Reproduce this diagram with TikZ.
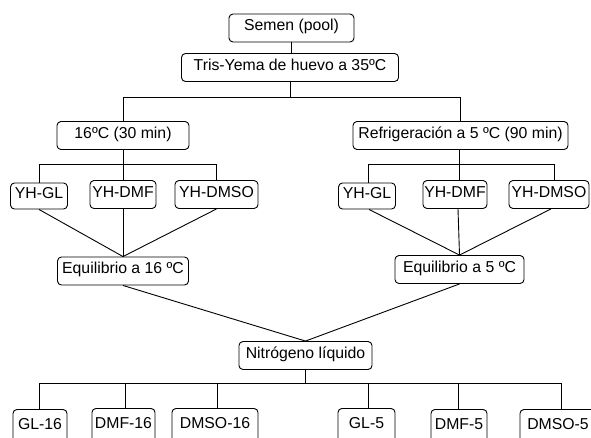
\documentclass[tikz,border=0pt]{standalone}
\usepackage{fontspec}
\setmainfont{Liberation Sans}
\begin{document}
\begin{tikzpicture}[x=1pt,y=-1pt,
  box/.style={draw, rounded corners=4pt, line width=0.9pt, inner sep=0pt,
    minimum height=28pt, text height=0.72em, text depth=0.2em,
    font=\fontsize{15.8}{18}\selectfont},
  bottombox/.style={box, minimum height=40pt, anchor=north, text depth=20pt, text height=20pt},
  conn/.style={line width=0.9pt}]
\useasboundingbox (0,0) rectangle (591,437);
% level nodes
\node[box, minimum width=125pt] (semen) at (291.5,28) {Semen (pool)};
\node[box, minimum width=217pt] (tris) at (290,67.5) {Tris-Yema de huevo a 35ºC};
\node[box, minimum width=132pt] (c16) at (123,135.5) {16ºC (30 min)};
\node[box, minimum width=215pt] (c5) at (460.5,135.5) {Refrigeración a 5 ºC (90 min)};
% left children
\node[box, minimum width=57pt, minimum height=26pt] (lgl) at (39,196) {YH-GL};
\node[box, minimum width=66pt] (ldmf) at (123,194.5) {YH-DMF};
\node[box, minimum width=83pt] (ldmso) at (216.5,194.5) {YH-DMSO};
% right children
\node[box, minimum width=57pt, minimum height=26pt] (rgl) at (367,196) {YH-GL};
\node[box, minimum width=64pt] (rdmf) at (455,194.5) {YH-DMF};
\node[box, minimum width=80pt] (rdmso) at (549,194.5) {YH-DMSO};
% equilibrium
\node[box, minimum width=131pt] (e16) at (123,271) {Equilibrio a 16 ºC};
\node[box, minimum width=129pt] (e5) at (459.5,269.5) {Equilibrio a 5 ºC};
% nitrogen
\node[box, minimum width=133pt] (nit) at (305.5,355.5) {Nitrógeno líquido};
% bottom
\node[bottombox, minimum width=54pt] (g16) at (40,409) {GL-16};
\node[bottombox, minimum width=63pt] (d16) at (123.5,408) {DMF-16};
\node[bottombox, minimum width=86pt] (s16) at (215,408) {DMSO-16};
\node[bottombox, minimum width=57pt] (g5) at (366.5,408) {GL-5};
\node[bottombox, minimum width=56pt] (d5) at (459,409) {DMF-5};
\node[bottombox, minimum width=76pt] (s5) at (558,409) {DMSO-5};
% connectors
\draw[conn] (semen.south) -- (semen.south |- tris.north);
\draw[conn] (tris.south) -- ++(0,15) -| (c16.north);
\draw[conn] (tris.south) -- ++(0,15) -| (c5.north);
\draw[conn] (c16.south) -- ++(0,14) -| (lgl.north);
\draw[conn] (c16.south) -- ++(0,14) -| (ldmso.north);
\draw[conn] (c16.south) -- (c16.south |- ldmf.north);
\draw[conn] ([xshift=-1.5pt]c5.south) -- ++(0,14) -| ([xshift=1pt]rgl.north);
\draw[conn] ([xshift=-1.5pt]c5.south) -- ++(0,14) -| ([xshift=5pt]rdmso.north);
\draw[conn] ([xshift=-1.5pt]c5.south) -- ([xshift=-1.5pt]c5.south |- rdmf.north);
\draw[conn] (lgl.south) -- (e16.north);
\draw[conn] (ldmf.south) -- (e16.north);
\draw[conn] (ldmso.south) -- (e16.north);
\draw[conn] ([xshift=2pt]rgl.south) -- (e5.north);
\draw[conn] ([xshift=3pt]rdmf.south) -- (e5.north);
\draw[conn] ([xshift=2pt]rdmso.south) -- (e5.north);
\draw[conn] (e16.south) -- (nit.north);
\draw[conn] (e5.south) -- (nit.north);
\draw[conn] (nit.south) -- ++(0,13) -| ([xshift=-1pt]g16.north);
\draw[conn] (nit.south) -- ++(0,13) -| ([xshift=1.5pt]d16.north);
\draw[conn] (nit.south) -- ++(0,13) -| ([xshift=2pt]s16.north);
\draw[conn] (nit.south) -- ++(0,13) -| ([xshift=1.5pt]g5.north);
\draw[conn] (nit.south) -- ++(0,13) -| ([xshift=-1pt]d5.north);
\draw[conn] (nit.south) -- ++(0,13) -| ([xshift=3pt]s5.north);
\end{tikzpicture}
\end{document}
